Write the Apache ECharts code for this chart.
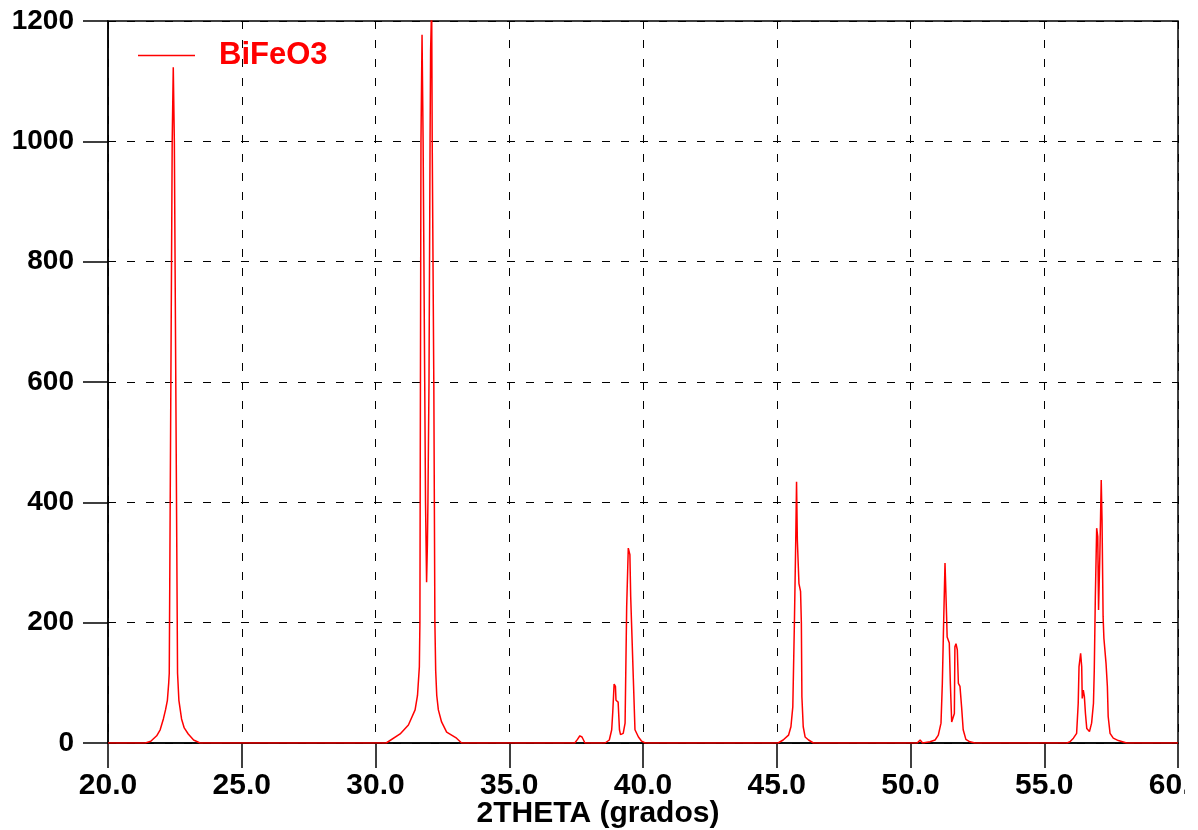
<!doctype html>
<html lang="es">
<head>
    <meta charset="UTF-8">
    <title>BiFeO3 XRD</title>
    <style>
        *{
            margin:0;
            padding:0;
        }
        html,body {
            background:#fff;
        }
        #main{
            width:1185px;
            height:830px;
        }
    </style>
</head>
<body>

<div id="main"></div>
<script src="https://cdn.jsdelivr.net/npm/echarts@6/dist/echarts.min.js"></script>
<script>

    var seriesName = 'BiFeO3';

    // 2theta (grados)
    var twoTheta = [
        20.00, 21.40, 21.60, 21.82, 21.95, 22.07, 22.15, 22.22, 22.27, 22.29,
        22.40, 22.44, 22.48, 22.60, 22.65, 22.75, 22.85, 23.00, 23.20, 23.44,
        30.40, 30.92, 31.23, 31.48, 31.57, 31.64, 31.66, 31.70, 31.74, 31.78,
        31.84, 31.87, 31.91, 31.94, 31.96, 32.00, 32.04, 32.06, 32.10, 32.12,
        32.18, 32.20, 32.22, 32.25, 32.29, 32.35, 32.47, 32.66, 33.03, 33.22,
        37.45, 37.55, 37.64, 37.72, 37.83,
        38.58, 38.74, 38.83, 38.87, 38.92, 38.97, 38.99, 39.07, 39.12, 39.16,
        39.26, 39.33, 39.39, 39.45, 39.51, 39.54, 39.58, 39.64, 39.70, 39.83,
        39.95, 40.08,
        45.05, 45.24, 45.44, 45.53, 45.60, 45.66, 45.71, 45.74, 45.77, 45.83,
        45.89, 45.92, 45.94, 45.99, 46.06, 46.19, 46.37,
        50.25, 50.36, 50.45, 50.73, 50.92, 51.04, 51.14, 51.19, 51.23, 51.29,
        51.35, 51.37, 51.45, 51.49, 51.54, 51.60, 51.64, 51.66, 51.70, 51.75,
        51.79, 51.85, 51.91, 51.97, 52.07, 52.22, 52.41,
        55.85, 55.96, 56.09, 56.21, 56.27, 56.30, 56.36, 56.40, 56.42, 56.46,
        56.50, 56.54, 56.59, 56.69, 56.77, 56.84, 56.87, 56.91, 56.96, 57.00,
        57.03, 57.06, 57.08, 57.13, 57.16, 57.20, 57.23, 57.26, 57.31, 57.36,
        57.39, 57.46, 57.58, 57.77, 58.08, 60.00
    ];

    // intensidad
    var intensity = [
        0, 0, 3, 12, 22, 40, 55, 71, 100, 116,
        1000, 1123, 1000, 116, 71, 40, 25, 15, 5, 0,
        0, 15, 30, 55, 79, 127, 200, 1000, 1177, 1000,
        600, 400, 267, 330, 400, 600, 1000, 1150, 1230, 1000,
        600, 400, 200, 120, 79, 55, 35, 18, 8, 0,
        0, 6, 12, 10, 0,
        0, 5, 22, 52, 98, 94, 71, 68, 22, 14,
        16, 33, 227, 324, 313, 243, 188, 105, 22, 10,
        3, 0,
        0, 5, 13, 27, 60, 200, 337, 434, 337, 265,
        252, 200, 77, 27, 10, 5, 0,
        0, 5, 0, 2, 5, 13, 33, 99, 182, 299,
        210, 176, 166, 99, 35, 33, 49, 160, 165, 155,
        99, 94, 60, 22, 6, 2, 0,
        0, 2, 8, 16, 66, 127, 149, 127, 74, 88,
        77, 49, 24, 19, 33, 66, 121, 243, 357, 343,
        221, 221, 315, 437, 371, 210, 174, 177, 132, 94,
        44, 16, 8, 4, 0, 0
    ];

    var fontFamily = '"Liberation Sans", Arial, sans-serif';

    var points = twoTheta.map(function (x, i) {
        return [x, intensity[i]];
    });

    var myChart = echarts.init(document.getElementById('main'));

    myChart.setOption({
        animation: false,
        backgroundColor: '#fff',
        textStyle: {
            fontFamily: fontFamily
        },
        grid: {
            left: 108,
            top: 21,
            width: 1070,
            height: 722,
            show: true,
            borderColor: '#000',
            borderWidth: 1.5,
            containLabel: false,
            outerBoundsMode: 'none'
        },
        legend: {
            data: [{name: seriesName, icon: 'rect'}],
            left: 138,
            top: 40,
            padding: 0,
            itemWidth: 57,
            itemHeight: 1.5,
            itemStyle: {
                color: '#ff0000'
            },
            textStyle: {
                color: '#ff0000',
                fontWeight: 'bold',
                fontSize: 31,
                fontFamily: fontFamily,
                padding: [0, 0, 0, 19]
            }
        },
        xAxis: {
            type: 'value',
            min: 20,
            max: 60,
            interval: 5,
            name: '2THETA (grados)',
            nameLocation: 'middle',
            nameGap: 56,
            nameMoveOverlap: false,
            nameTextStyle: {
                color: '#000',
                fontSize: 30,
                fontWeight: 'bold',
                fontFamily: fontFamily,
                padding: [0, 90, 0, 0]
            },
            axisLine: {
                lineStyle: {color: '#000', width: 1.5}
            },
            axisTick: {
                length: 25,
                lineStyle: {color: '#000', width: 1.5}
            },
            axisLabel: {
                color: '#000',
                fontSize: 30,
                fontWeight: 'bold',
                margin: 28,
                formatter: function (v) {
                    return v.toFixed(1);
                }
            },
            splitLine: {
                show: true,
                lineStyle: {color: '#000', width: 1, type: [8, 11]}
            }
        },
        yAxis: {
            type: 'value',
            min: 0,
            max: 1200,
            interval: 200,
            axisLine: {
                show: true,
                lineStyle: {color: '#000', width: 1.5}
            },
            axisTick: {
                show: true,
                length: 25,
                lineStyle: {color: '#000', width: 1.5}
            },
            axisLabel: {
                color: '#000',
                fontSize: 28,
                fontWeight: 'bold',
                margin: 34,
                formatter: function (v) {
                    return String(v);
                }
            },
            splitLine: {
                show: true,
                lineStyle: {color: '#000', width: 1, type: [8, 11]}
            }
        },
        series: [{
            name: seriesName,
            type: 'line',
            data: points,
            symbol: 'none',
            clip: true,
            z: 5,
            lineStyle: {
                color: '#ff0000',
                width: 1.5
            },
            itemStyle: {
                color: '#ff0000'
            }
        }]
    });

</script>
</body>
</html>
